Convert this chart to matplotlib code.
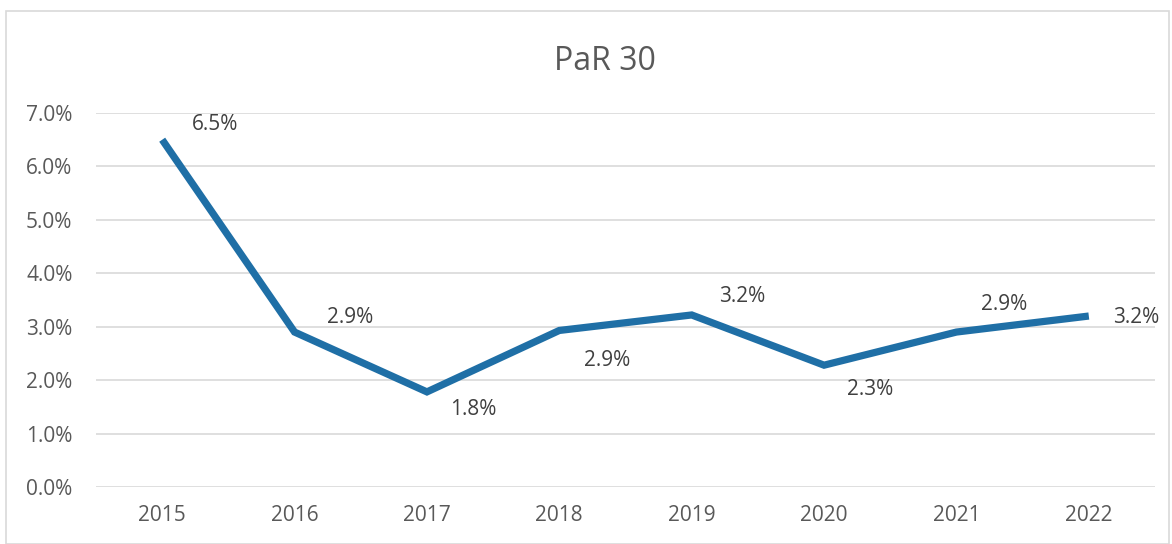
import matplotlib
matplotlib.use("Agg")
import matplotlib.pyplot as plt
from matplotlib.patches import Rectangle
from matplotlib.ticker import FuncFormatter

years = ["2015", "2016", "2017", "2018", "2019", "2020", "2021", "2022"]
par30 = [6.5, 2.9, 1.78, 2.93, 3.22, 2.28, 2.9, 3.2]
labels = ["6.5%", "2.9%", "1.8%", "2.9%", "3.2%", "2.3%", "2.9%", "3.2%"]
label_offsets = [(53, 15), (56, 15), (46, -18), (48, -30), (50, 18), (46, -24), (48, 28), (47, -1)]

plt.rcParams['font.family'] = ['Open Sans', 'DejaVu Sans']
txt = "#595959"

fig = plt.figure(figsize=(11.72, 5.44), dpi=100)
W, H = 1172, 544
fig.patches.append(Rectangle((6 / W, 0), (1169 - 6) / W, (544 - 11) / H, transform=fig.transFigure,
                             fill=False, edgecolor="#d9d9d9", linewidth=1.2))

ax = fig.add_axes([96 / W, (H - 487) / H, (1155 - 96) / W, (487 - 113) / H])
x = list(range(len(years)))
ax.plot(x, par30, color="#1f6fa6", linewidth=5.2, solid_joinstyle="miter", solid_capstyle="butt", zorder=3)
for xi, yi, lab, off in zip(x, par30, labels, label_offsets):
    ax.annotate(lab, (xi, yi), xytext=(off[0] * 0.72, off[1] * 0.72), textcoords="offset points",
                ha="center", va="center", fontsize=15, color="#404040")

ax.set_xlim(-0.5, 7.5)
ax.set_ylim(0, 7)
ax.set_yticks([0, 1, 2, 3, 4, 5, 6, 7])
ax.yaxis.set_major_formatter(FuncFormatter(lambda v, p: f"{v:.1f}%"))
ax.set_xticks(x)
ax.set_xticklabels(years)
ax.grid(axis="y", color="#d9d9d9", linewidth=1.2)
ax.set_axisbelow(True)
for s in ax.spines.values():
    s.set_visible(False)
ax.tick_params(axis="both", length=0, labelsize=15, labelcolor=txt)
ax.tick_params(axis="y", pad=17)
ax.tick_params(axis="x", pad=13)

fig.text(605 / W, (H - 62) / H, "PaR 30", ha="center", va="center", fontsize=23, color=txt)

fig.savefig("out.png", dpi=100)
